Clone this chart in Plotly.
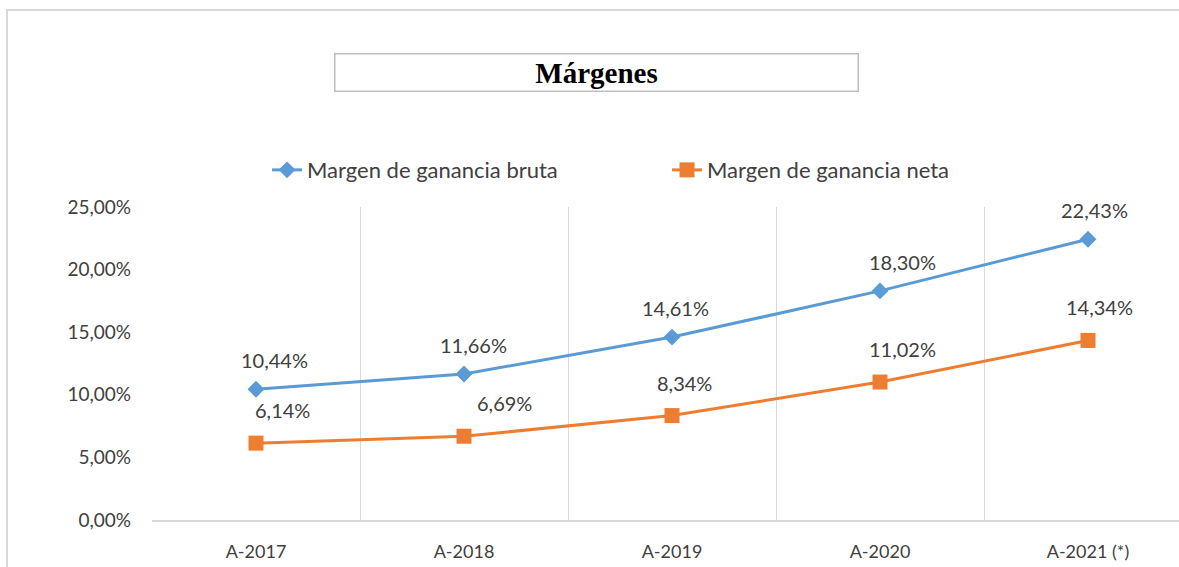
import plotly.graph_objects as go

years = ['A-2017', 'A-2018', 'A-2019', 'A-2020', 'A-2021 (*)']
bruta = [0.1044, 0.1166, 0.1461, 0.1830, 0.2243]
neta = [0.0614, 0.0669, 0.0834, 0.1102, 0.1434]
y_ticks = [0, 0.05, 0.10, 0.15, 0.20, 0.25]

blue = '#5B9BD5'
orange = '#ED7D31'
grid = '#d9d9d9'
text_grey = '#404040'
sans = 'Lato, Open Sans, sans-serif'
label_font = dict(family=sans, size=20, color=text_grey)

fig = go.Figure()
fig.add_trace(go.Scatter(
    x=years, y=bruta, name='Margen de ganancia bruta', mode='lines+markers',
    line=dict(color=blue, width=3),
    marker=dict(symbol='diamond', size=13, color=blue),
))
fig.add_trace(go.Scatter(
    x=years, y=neta, name='Margen de ganancia neta', mode='lines+markers',
    line=dict(color=orange, width=3),
    marker=dict(symbol='square', size=15, color=orange),
))

# data labels above each point, nudged a little to the right like the Excel original
bruta_dx = [18, 9, 3, 22, 6]
neta_dx = [26, 40, 12, 22, 11]
for i, yr in enumerate(years):
    fig.add_annotation(x=yr, y=bruta[i], text=f"{bruta[i]*100:.2f}%".replace('.', ','),
                       showarrow=False, yshift=29, xshift=bruta_dx[i], font=label_font)
    fig.add_annotation(x=yr, y=neta[i], text=f"{neta[i]*100:.2f}%".replace('.', ','),
                       showarrow=False, yshift=33, xshift=neta_dx[i], font=label_font)

# boxed title
fig.add_annotation(
    xref='paper', yref='paper', x=0.4333, y=1.431, xanchor='center', yanchor='middle',
    text='<b>Márgenes</b>', showarrow=False, width=520, height=34,
    bordercolor='#bfbfbf', borderwidth=1.5, bgcolor='white',
    font=dict(family='Liberation Serif, Times New Roman, serif', size=29, color='black'),
)

# outer chart frame
fig.add_shape(type='rect', xref='paper', yref='paper', x0=-0.1412, y0=-0.3, x1=1.2, y1=1.629,
              line=dict(color=grid, width=2), layer='below')

fig.update_layout(
    width=1179, height=567,
    margin=dict(l=152, r=0, t=207, b=47, autoexpand=False),
    paper_bgcolor='white', plot_bgcolor='white',
    separators=',.',
    showlegend=True,
    legend=dict(orientation='h', x=0.112, xanchor='left', y=1.118, yanchor='middle',
                font=dict(family=sans, size=22, color=text_grey),
                entrywidth=355, tracegroupgap=0, bgcolor='rgba(0,0,0,0)'),
)
fig.update_xaxes(
    type='category', range=[-0.5, 4.4375], tickson='boundaries',
    showgrid=True, gridcolor=grid, gridwidth=1,
    showline=True, linecolor=grid, linewidth=2,
    ticks='', ticklabelstandoff=14, automargin=False,
    tickfont=dict(family=sans, size=18, color=text_grey),
    zeroline=False,
)
fig.update_yaxes(
    range=[0, 0.25], tickvals=y_ticks, tickformat='.2%',
    showgrid=False, zeroline=False, showline=False,
    ticks='', ticklabelstandoff=20, automargin=False,
    tickfont=dict(family=sans, size=19, color=text_grey),
)

fig.write_html("out.html", config={'displayModeBar': False},
               post_script="document.body.style.margin='0';document.body.style.overflow='hidden';")
